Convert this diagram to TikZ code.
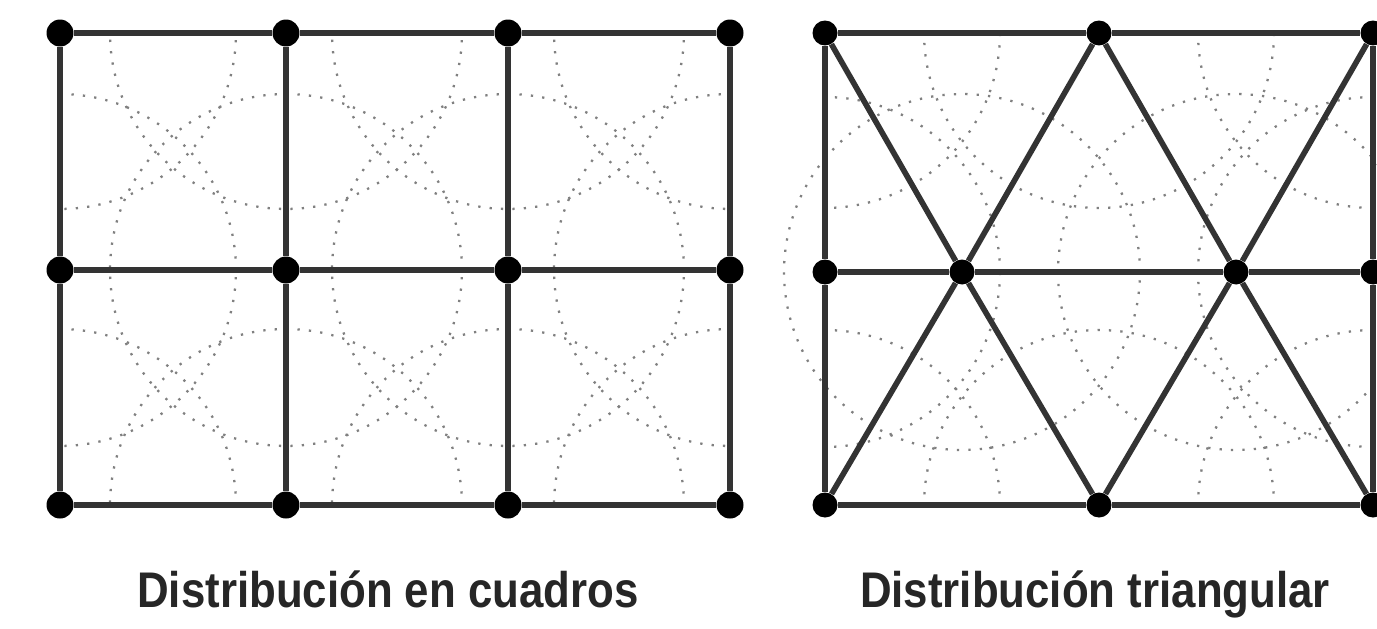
\documentclass[tikz,border=0pt]{standalone}
\usepackage{fontspec}
\setmainfont{Liberation Sans}
\begin{document}
\begin{tikzpicture}[x=0.02cm,y=-0.02cm,
  dot/.style={circle,fill=black,inner sep=0pt,minimum size=0.54cm},
  bar/.style={draw=black!80,line width=3.2pt},
  ring/.style={draw=black!50,line width=1.3pt,dash pattern=on 1.3pt off 5.2pt},
  caption/.style={font=\bfseries\fontsize{28.5}{32}\selectfont,inner sep=0pt,anchor=base,text=black!85}]
\useasboundingbox (0,0) rectangle (1377,629);
\clip (0,0) rectangle (1377,629);

% ---------- left: square layout ----------
\begin{scope}
  \clip (60,33) rectangle (730,505);
  \foreach \x in {60,286,508,730}
    \foreach \y in {33,270,505}
      \draw[ring] (\x,\y) circle[radius=3.52cm];
\end{scope}

\foreach \x/\i in {60/1,286/2,508/3,730/4}
  \foreach \y/\j in {33/1,270/2,505/3}
    \node[dot] (L\j\i) at (\x,\y) {};

\foreach \j in {1,2,3}
  \draw[bar] (L\j1) -- (L\j2) -- (L\j3) -- (L\j4);
\foreach \i in {1,2,3,4}
  \draw[bar] (L1\i) -- (L2\i) -- (L3\i);

% ---------- right: triangular layout ----------
\begin{scope}
  \clip (825,33) rectangle (1373,505);
  \foreach \p in {(825,33),(1099,33),(1373,33),(825,272),(1373,272),(825,505),(1099,505),(1373,505)}
    \draw[ring] \p circle[radius=3.5cm];
\end{scope}
\draw[ring] (962,272) circle[radius=3.56cm];
\draw[ring] (1236,272) circle[radius=3.56cm];

\node[dot,minimum size=0.5cm] (T1) at (825,33) {};
\node[dot,minimum size=0.5cm] (T2) at (1099,33) {};
\node[dot,minimum size=0.5cm] (T3) at (1373,33) {};
\node[dot,minimum size=0.5cm] (M0) at (825,272) {};
\node[dot,minimum size=0.5cm] (M1) at (962,272) {};
\node[dot,minimum size=0.5cm] (M2) at (1236,272) {};
\node[dot,minimum size=0.5cm] (M3) at (1373,272) {};
\node[dot,minimum size=0.5cm] (B1) at (825,505) {};
\node[dot,minimum size=0.5cm] (B2) at (1099,505) {};
\node[dot,minimum size=0.5cm] (B3) at (1373,505) {};

\draw[bar] (T1) -- (T2) -- (T3);
\draw[bar] (M0) -- (M1) -- (M2) -- (M3);
\draw[bar] (B1) -- (B2) -- (B3);
\draw[bar] (T1) -- (M0) -- (B1);
\draw[bar] (T3) -- (M3) -- (B3);
\draw[bar] (T1) -- (M1) -- (B2);
\draw[bar] (B1) -- (M1) -- (T2);
\draw[bar] (T2) -- (M2) -- (B3);
\draw[bar] (B2) -- (M2) -- (T3);

% ---------- captions ----------
\node[caption] (c1) at (388,607) {\scalebox{0.875}[1]{Distribución en cuadros}};
\node[caption] (c2) at (1095,607) {\scalebox{0.875}[1]{Distribución triangular}};
\end{tikzpicture}
\end{document}
